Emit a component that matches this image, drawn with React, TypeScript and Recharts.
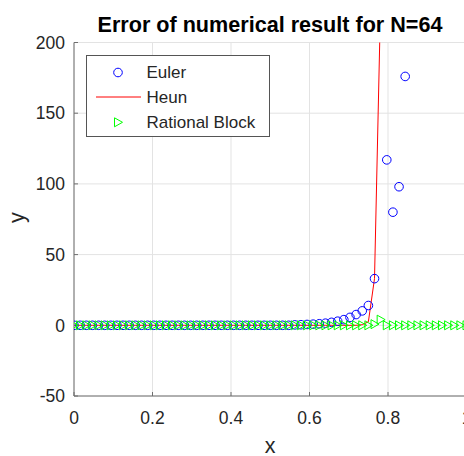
import React from 'react';
import { ComposedChart, Line, Scatter, XAxis, YAxis, CartesianGrid, Legend } from 'recharts';

const N = 64;
const steps = [
  0, 1, 2, 3, 4, 5, 6, 7, 8, 9, 10, 11, 12, 13, 14, 15, 16, 17, 18, 19, 20, 21, 22, 23, 24, 25, 26, 27, 28, 29, 30, 31,
  32, 33, 34, 35, 36, 37, 38, 39, 40, 41, 42, 43, 44, 45, 46, 47, 48, 49, 50, 51, 52, 53, 54, 55, 56, 57, 58, 59, 60,
  61, 62, 63, 64,
];

// Euler error (null = outside the visible range)
const eulerValues: (number | null)[] = [
  0, 0, 0, 0, 0, 0, 0, 0, 0, 0, 0, 0, 0, 0, 0, 0, 0, 0, 0, 0, 0, 0, 0, 0, 0, 0, 0, 0, 0, 0, 0, 0, 0, 0, 0, 0,
  0.3, 0.4, 0.6, 0.8, 1.1, 1.5, 2.1, 2.9, 4.0, 5.6, 7.6, 10.2, 14, 33, null, 117, 80, 98, 176,
];
// Heun error
const heunValues: number[] = [
  0, 0, 0, 0, 0, 0, 0, 0, 0, 0, 0, 0, 0, 0, 0, 0, 0, 0, 0, 0, 0, 0, 0, 0, 0, 0, 0, 0, 0, 0, 0, 0, 0, 0, 0, 0,
  0, 0, 0, 0, 0, 0, 0, 0, 0, 0, 0, 0.4, 2.5, 33, 230,
];
// Rational Block error
const rationalValues: number[] = [
  0, 0, 0, 0, 0, 0, 0, 0, 0, 0, 0, 0, 0, 0, 0, 0, 0, 0, 0, 0, 0, 0, 0, 0, 0, 0, 0, 0, 0, 0, 0, 0, 0, 0, 0, 0,
  0, 0, 0, 0, 0, 0, 0, 0, 0, 0, 0, 0, 0, 0.8, 4, 0, 0, 0, 0, 0, 0, 0, 0, 0, 0, 0, 0, 0, 0,
];

const xTicks = [0, 0.2, 0.4, 0.6, 0.8, 1];
const yTicks = [-50, 0, 50, 100, 150, 200];
const seriesNames = ['Euler', 'Heun', 'Rational Block'];

const build = (vals: (number | null)[]) =>
  vals
    .map((v, i) => ({ x: steps[i] / N, y: v }))
    .filter((d) => d.y !== null);

const eulerData = build(eulerValues);
const heunData = build(heunValues);
const rationalData = build(rationalValues);

const FONT = '"Liberation Sans", Arial, sans-serif';
const TXT = '#262626';
const AXIS = '#6e6e6e';
const BLUE = '#0000ff';
const RED = '#ff0000';
const GREEN = '#00ff00';

const CircleShape = (p: any) => (
  <circle cx={p.cx} cy={p.cy} r={4.3} fill="none" stroke={BLUE} strokeWidth={1} />
);
const TriShape = (p: any) => (
  <polygon
    points={`${p.cx - 3.5},${p.cy - 4.5} ${p.cx + 4.5},${p.cy} ${p.cx - 3.5},${p.cy + 4.5}`}
    fill="none"
    stroke={GREEN}
    strokeWidth={1}
  />
);

const LegendBox = () => (
  <svg width={184} height={82} style={{ display: 'block' }}>
    <rect x={0.5} y={0.5} width={183} height={81} fill="#fff" stroke="#555" strokeWidth={1} />
    <circle cx={32} cy={17.5} r={4.3} fill="none" stroke={BLUE} strokeWidth={1} />
    <line x1={10} y1={42} x2={55} y2={42} stroke={RED} strokeWidth={1} />
    <polygon points="28.5,62.8 36.5,67.3 28.5,71.8" fill="none" stroke={GREEN} strokeWidth={1} />
    {seriesNames.map((n, i) => (
      <text key={n} x={60.5} y={23.3 + i * 25} fontSize={17} fontFamily={FONT} fill={TXT}>
        {n}
      </text>
    ))}
  </svg>
);

export default function App() {
  return (
    <div
      style={{
        position: 'fixed',
        left: 0,
        top: 0,
        width: 464,
        height: 456,
        overflow: 'hidden',
        background: '#fff',
        fontFamily: FONT,
      }}
    >
      <ComposedChart
        width={480}
        height={456}
        margin={{ top: 42.5, right: 13.5, bottom: 0, left: 0 }}
        style={{ position: 'absolute', left: 0, top: 0 }}
      >
        <CartesianGrid stroke="#e3e3e3" strokeWidth={1} />
        <XAxis
          dataKey="x"
          type="number"
          domain={[0, 1]}
          ticks={xTicks}
          allowDataOverflow
          height={60}
          tickSize={-4}
          tickMargin={20}
          axisLine={{ stroke: AXIS }}
          tickLine={{ stroke: AXIS }}
          tick={{ fill: TXT, fontSize: 17.5, fontFamily: FONT }}
        />
        <XAxis
          xAxisId="top"
          orientation="top"
          type="number"
          domain={[0, 1]}
          ticks={xTicks}
          allowDataOverflow
          height={0}
          tickSize={-4}
          tick={false}
          axisLine={{ stroke: AXIS }}
          tickLine={{ stroke: AXIS }}
        />
        <YAxis
          dataKey="y"
          type="number"
          domain={[-50, 200]}
          ticks={yTicks}
          allowDataOverflow
          width={74}
          tickSize={-4}
          tickMargin={13}
          axisLine={{ stroke: AXIS }}
          tickLine={{ stroke: AXIS }}
          tick={{ fill: TXT, fontSize: 17.5, fontFamily: FONT }}
        />
        <Scatter
          name="Euler"
          data={eulerData}
          dataKey="y"
          shape={CircleShape}
          isAnimationActive={false}
        />
        <Line
          name="Heun"
          data={heunData}
          dataKey="y"
          type="linear"
          stroke={RED}
          strokeWidth={1}
          dot={false}
          activeDot={false}
          isAnimationActive={false}
        />
        <Scatter
          name="Rational Block"
          data={rationalData}
          dataKey="y"
          shape={TriShape}
          isAnimationActive={false}
        />
        <Legend
          layout="vertical"
          align="center"
          verticalAlign="middle"
          content={() => <LegendBox />}
          wrapperStyle={{ position: 'absolute', left: 86, top: 55, width: 184, height: 82 }}
        />
      </ComposedChart>
      <svg
        width={464}
        height={456}
        style={{ position: 'absolute', left: 0, top: 0, pointerEvents: 'none' }}
      >
        <text x={270} y={31.7} textAnchor="middle" fontSize={21.6} fontWeight="bold" fontFamily={FONT} fill="#000">
          Error of numerical result for N=64
        </text>
        <text x={270} y={453} textAnchor="middle" fontSize={21.5} fontFamily={FONT} fill={TXT}>
          x
        </text>
        <text
          x={24}
          y={217.5}
          textAnchor="middle"
          fontSize={21.5}
          fontFamily={FONT}
          fill={TXT}
          transform="rotate(-90 24 217.5)"
        >
          y
        </text>
      </svg>
    </div>
  );
}
